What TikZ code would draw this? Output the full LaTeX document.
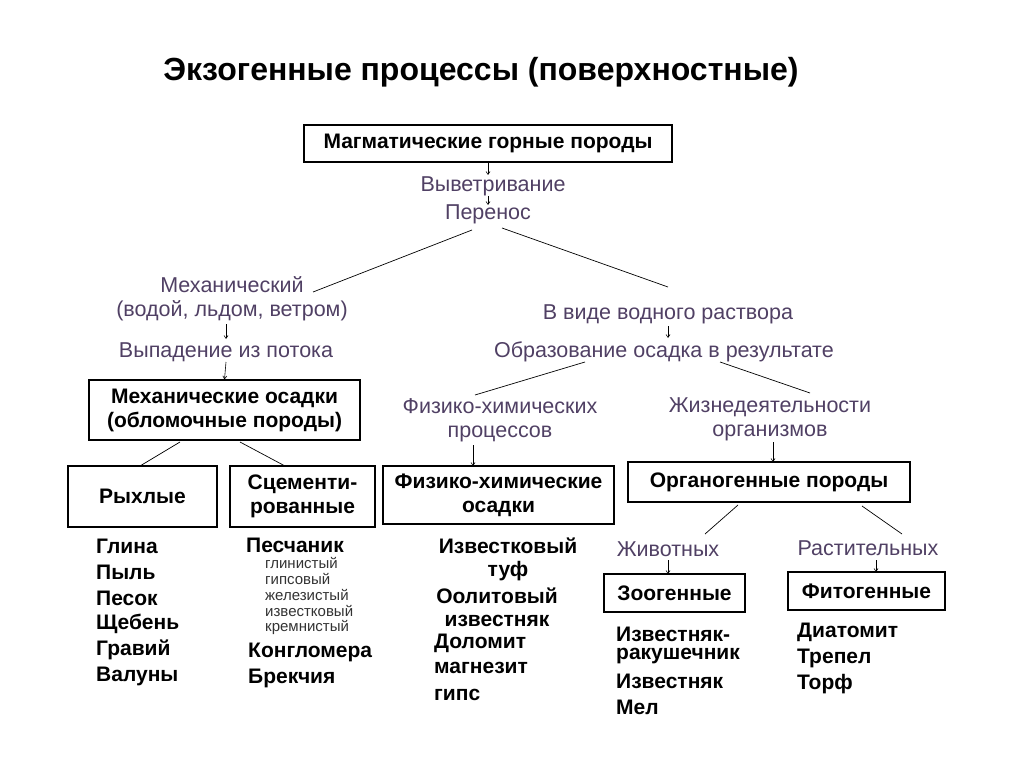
\documentclass[tikz,border=0pt]{standalone}
\usepackage{fontspec}
\setmainfont{Liberation Sans}
\usetikzlibrary{arrows.meta}
\definecolor{proc}{RGB}{80,64,100}
\begin{document}
\begin{tikzpicture}[x=1pt,y=-1pt,
 box/.style={draw,line width=1.1pt,inner sep=0pt,font=\bfseries\fontsize{21}{24}\selectfont,align=center},
 proc/.style={text=proc,font=\fontsize{21.5}{24}\selectfont,inner sep=1pt,align=center},
 item/.style={anchor=west,font=\bfseries\fontsize{21}{23}\selectfont,inner sep=0pt},
 small/.style={anchor=west,font=\fontsize{15}{16}\selectfont,text=black!80,inner sep=0pt},
 ln/.style={line width=0.7pt},
 ar/.style={line width=0.6pt,-{Straight Barb[length=3pt,width=4pt]}}]
\useasboundingbox (0,0) rectangle (1024,767);
\node[font=\bfseries\fontsize{32}{36}\selectfont] (title) at (481,72) {Экзогенные процессы (поверхностные)};
% top
\node[box,minimum width=368pt,minimum height=37pt] (mag) at (488,143.5) {Магматические горные породы};
\node[proc] (vyv) at (493,186) {Выветривание};
\node[proc] (per) at (488,214) {Перенос};
\draw[ar] (488,162) -- (488,175);
\draw[ar] (488,196) -- (488,205);
\coordinate (pl) at (472,230); \coordinate (pr) at (502,228);
\node[proc] (mech) at (232,299) {Механический\\(водой, льдом, ветром)};
\node[proc] (vod) at (668,314) {В виде водного раствора};
\draw[ln] (pl) -- (313,292);
\draw[ln] (pr) -- (668,287);
\node[proc] (vyp) at (226,352) {Выпадение из потока};
\draw[ar] (226,324) -- (226,339);
\node[box,minimum width=271pt,minimum height=60pt] (mos) at (224.5,410) {Механические осадки\\(обломочные породы)};
\draw[ar] (226,362) -- (mos.north);
\node[proc] (obr) at (664,352) {Образование осадка в результате};
\draw[ar] (668,326) -- (668,338);
\node[proc] (fhp) at (500,420) {Физико-химических\\процессов};
\node[proc] (zhiz) at (770,419) {Жизнедеятельности\\организмов};
\draw[ln] (585,362) -- (475,395);
\draw[ln] (720,362) -- (810,393);
% second level boxes
\node[box,minimum width=149pt,minimum height=61pt] (ryh) at (142.5,496.5) {Рыхлые};
\node[box,minimum width=145pt,minimum height=61pt] (scem) at (302.5,496.5) {Сцементи-\\рованные};
\node[box,minimum width=231pt,minimum height=58pt] (fho) at (498.5,495) {Физико-химические\\осадки};
\node[box,minimum width=282pt,minimum height=40pt] (org) at (769,482) {Органогенные породы};
\draw[ln] (180,442) -- (140,466);
\draw[ln] (240,442) -- (285,466);
\draw[ar] (473,445) -- (473,466);
\draw[ar] (773,442) -- (773,462);
% organogenic split
\node[proc] (ziv) at (668,549) {Животных};
\node[proc] (rast) at (868,548) {Растительных};
\draw[ln] (738,505) -- (705,534);
\draw[ln] (862,506) -- (902,534);
\node[box,minimum width=141pt,minimum height=38pt] (zoo) at (674.5,593) {Зоогенные};
\node[box,minimum width=157pt,minimum height=38pt] (fit) at (866.5,591) {Фитогенные};
\draw[ar] (668,560) -- (668,574);
\draw[ar] (876,560) -- (876,572);
% lists
\foreach \t/\y in {Глина/546,Пыль/572,Песок/598,Щебень/624,Гравий/650,Валуны/676}
  \node[item] at (96,\y) {\t};
\node[item] (pes) at (246,545) {Песчаник};
\foreach \t/\y in {глинистый/563,гипсовый/579,железистый/595,известковый/611,кремнистый/627}
  \node[small] at (265,\y) {\t};
\node[item] at (248,652) {Конгломера};
\node[item] at (248,678) {Брекчия};
\node[item,anchor=center,align=center,font=\bfseries\fontsize{21}{23}\selectfont] at (508,559) {Известковый\\туф};
\node[item,anchor=center,align=center,font=\bfseries\fontsize{21}{23}\selectfont] at (497,607) {Оолитовый\\известняк};
\node[item] at (434,643) {Доломит};
\node[item] at (434,668) {магнезит};
\node[item] at (434,695) {гипс};
\node[item] at (616,634) {Известняк-};
\node[item] at (616,656) {ракушечник};
\node[item] at (616,681) {Известняк};
\node[item] at (616,707) {Мел};
\node[item] at (797,632) {Диатомит};
\node[item] at (797,658) {Трепел};
\node[item] at (797,684) {Торф};
\end{tikzpicture}
\end{document}
